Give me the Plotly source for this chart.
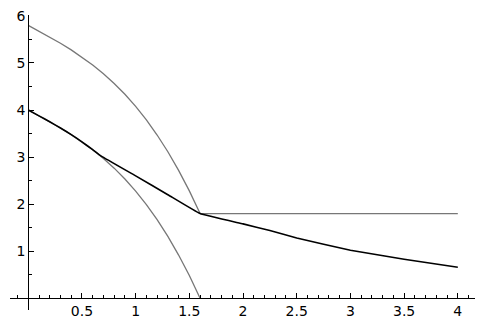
import plotly.graph_objects as go

# values
curve_x = [0, 0.1, 0.2, 0.3, 0.4, 0.5, 0.6, 0.7, 0.8, 0.9, 1.0,
           1.1, 1.2, 1.3, 1.4, 1.5, 1.6]
lower_y = [4.0, 3.877, 3.751, 3.619, 3.478, 3.325, 3.157, 2.972, 2.765,
           2.535, 2.277, 1.99, 1.669, 1.313, 0.918, 0.482, 0.0]
upper_y = [5.8, 5.677, 5.551, 5.419, 5.278, 5.125, 4.957, 4.772, 4.565,
           4.335, 4.077, 3.79, 3.469, 3.113, 2.718, 2.282, 1.8]

flat_x = [1.6, 4.0]
flat_y = [1.8, 1.8]

black_x = [0, 0.1, 0.2, 0.3, 0.4, 0.5, 0.6, 0.68, 1.0, 1.3, 1.6,
           2.0, 2.25, 2.5, 3.0, 3.5, 4.0]
black_y = [4.0, 3.877, 3.751, 3.619, 3.478, 3.325, 3.157, 3.02, 2.6, 2.2, 1.8,
           1.58, 1.44, 1.28, 1.02, 0.83, 0.66]

xticks = [0.5, 1, 1.5, 2, 2.5, 3, 3.5, 4]
yticks = [1, 2, 3, 4, 5, 6]

gray = "#777777"

fig = go.Figure()
fig.add_trace(go.Scatter(x=curve_x, y=upper_y, mode="lines",
                         line=dict(color=gray, width=1.3)))
fig.add_trace(go.Scatter(x=flat_x, y=flat_y, mode="lines",
                         line=dict(color=gray, width=1.3)))
fig.add_trace(go.Scatter(x=curve_x, y=lower_y, mode="lines",
                         line=dict(color=gray, width=1.3)))
fig.add_trace(go.Scatter(x=black_x, y=black_y, mode="lines",
                         line=dict(color="black", width=1.6, shape="spline", smoothing=0.3)))

xr = [-0.17, 4.16]
yr = [-0.25, 6.02]

# the page body adds an 8px offset, so the figure is made a little smaller
fig.update_layout(
    width=477, height=317,
    margin=dict(l=2, r=10, t=7, b=15),
    plot_bgcolor="white", paper_bgcolor="white",
    showlegend=False,
    font=dict(family="DejaVu Sans", size=14, color="black"),
    xaxis=dict(range=xr, showgrid=False, zeroline=False, automargin=False,
               showline=True, linecolor="black", linewidth=1.2,
               anchor="free", position=(0 - yr[0]) / (yr[1] - yr[0]),
               tickvals=xticks, ticktext=[f"{v:g}" for v in xticks],
               ticks="inside", ticklen=5, tickcolor="black", ticklabeloverflow="allow",
               minor=dict(dtick=0.1, ticks="inside", ticklen=3, tickcolor="black")),
    yaxis=dict(range=yr, showgrid=False, zeroline=False, automargin=False,
               showline=True, linecolor="black", linewidth=1.2,
               anchor="free", position=(0 - xr[0]) / (xr[1] - xr[0]),
               tickvals=yticks, ticktext=[str(v) for v in yticks],
               ticks="inside", ticklen=5, tickcolor="black", ticklabeloverflow="allow",
               minor=dict(dtick=0.5, ticks="inside", ticklen=3, tickcolor="black")),
)

fig.write_html("out.html")
